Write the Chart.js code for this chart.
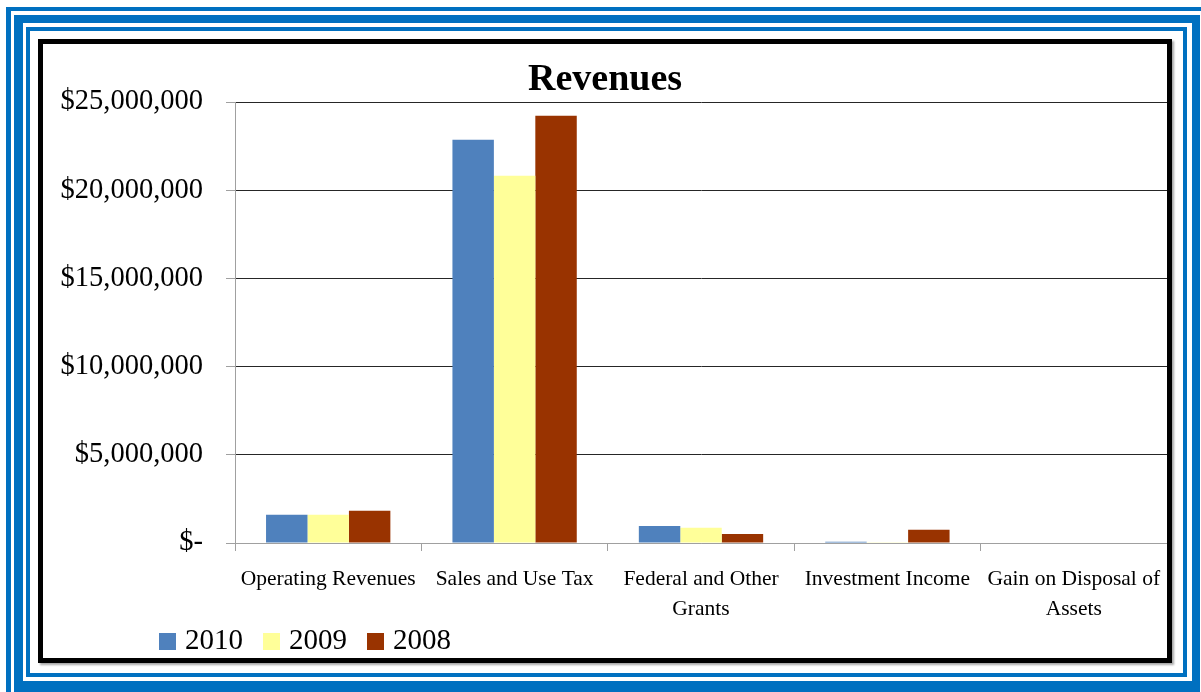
<!DOCTYPE html>
<html>
<head>
<meta charset="utf-8">
<title>Revenues</title>
<script src="https://cdn.jsdelivr.net/npm/chart.js@4/dist/chart.umd.min.js"></script>
<style>
  html, body { margin: 0; padding: 0; background: #fff; overflow: hidden; }
  body { width: 1201px; height: 692px; position: relative; }
  .frame { position: absolute; box-sizing: border-box; border-style: solid; border-color: #0070C0; }
  .frame.outer { left: 6px; top: 7px; width: 1300px; height: 800px; border-width: 4px 0 0 5px; }
  .frame.thick { left: 14px; top: 15px; width: 1186px; height: 678px; border-width: 8px 8px 12px 9px; }
  .frame.inner { left: 26px; top: 27px; width: 1161px; height: 650px; border-width: 4px; }
  .box {
    position: absolute; left: 38px; top: 39px; width: 1134px; height: 624px;
    box-sizing: border-box; border: 5px solid #000; background: #fff;
    box-shadow: 2px 2px 2px rgba(0, 0, 0, 0.35);
  }
  .box canvas { display: block; }
  #leyenda {
    position: absolute; left: 159px; top: 625px;
    display: flex; align-items: flex-start;
    font-family: 'Liberation Serif', 'Times New Roman', serif;
    font-size: 29px; line-height: 29px; color: #000;
  }
  #leyenda .item { display: flex; align-items: flex-start; margin-right: 20px; }
  #leyenda .caja { width: 17px; height: 17px; margin-top: 8px; margin-right: 9px; }
</style>
</head>
<body>
<div class="frame outer"></div>
<div class="frame thick"></div>
<div class="frame inner"></div>
<div class="box"><canvas id="graficoIngresos" width="1124" height="614"></canvas></div>
<div id="leyenda"></div>

<script>
// Categorías y valores por año
const categorias = [
  'Operating Revenues',
  'Sales and Use Tax',
  ['Federal and Other', 'Grants'],
  'Investment Income',
  ['Gain on Disposal of', 'Assets']
];
const anios = ['2010', '2009', '2008'];
const valores2010 = [1600000, 22860000, 970000, 70000, 0];
const valores2009 = [1600000, 20820000, 860000, 40000, 0];
const valores2008 = [1830000, 24220000, 510000, 750000, 0];
const etiquetasEjeY = ['$-', '$5,000,000', '$10,000,000', '$15,000,000', '$20,000,000', '$25,000,000'];

const fuente = "'Liberation Serif', 'Times New Roman', serif";

// Leyenda en HTML, generada a partir de los datasets del gráfico
const leyendaHtml = {
  id: 'leyendaHtml',
  afterUpdate(chart) {
    const contenedor = document.getElementById('leyenda');
    contenedor.innerHTML = '';
    const items = chart.options.plugins.legend.labels.generateLabels(chart);
    items.forEach(item => {
      const fila = document.createElement('div');
      fila.className = 'item';
      const caja = document.createElement('span');
      caja.className = 'caja';
      caja.style.background = item.fillStyle;
      const texto = document.createElement('span');
      texto.textContent = item.text;
      fila.appendChild(caja);
      fila.appendChild(texto);
      contenedor.appendChild(fila);
    });
  }
};

new Chart(document.getElementById('graficoIngresos'), {
  type: 'bar',
  data: {
    labels: categorias,
    datasets: [
      { label: anios[0], data: valores2010, backgroundColor: '#4F81BD', borderWidth: 0 },
      { label: anios[1], data: valores2009, backgroundColor: '#FFFF99', borderWidth: 0 },
      { label: anios[2], data: valores2008, backgroundColor: '#993300', borderWidth: 0 }
    ]
  },
  options: {
    responsive: false,
    animation: false,
    devicePixelRatio: 1,
    categoryPercentage: 0.667,
    barPercentage: 1.0,
    layout: { padding: 0 },
    plugins: {
      title: {
        display: true,
        text: 'Revenues',
        color: '#000',
        font: { family: fuente, size: 38, weight: 'bold', lineHeight: 1.0 },
        padding: { top: 17, bottom: 3 }
      },
      legend: { display: false },
      tooltip: { enabled: false }
    },
    scales: {
      x: {
        grid: {
          offset: true,
          drawOnChartArea: false,
          tickLength: 8,
          color: '#A0A0A0'
        },
        border: { color: '#A0A0A0' },
        ticks: {
          color: '#000',
          font: { family: fuente, size: 21.5, lineHeight: 1.4 },
          padding: 13,
          maxRotation: 0,
          minRotation: 0,
          autoSkip: false
        },
        afterFit(scale) {
          scale.height = 115;
          scale.paddingLeft = 0;
          scale.paddingRight = 0;
        }
      },
      y: {
        min: 0,
        max: 25000000,
        grid: {
          color: (ctx) => ctx.tick && ctx.tick.value === 0 ? '#A0A0A0' : '#262626',
          tickColor: '#A0A0A0',
          tickLength: 9
        },
        border: { color: '#A0A0A0' },
        ticks: {
          stepSize: 5000000,
          color: '#000',
          font: { family: fuente, size: 28.5 },
          padding: 23,
          callback: (valor, i) => etiquetasEjeY[i]
        },
        afterFit(scale) { scale.width = 192; }
      }
    }
  },
  plugins: [leyendaHtml]
});
</script>
</body>
</html>
